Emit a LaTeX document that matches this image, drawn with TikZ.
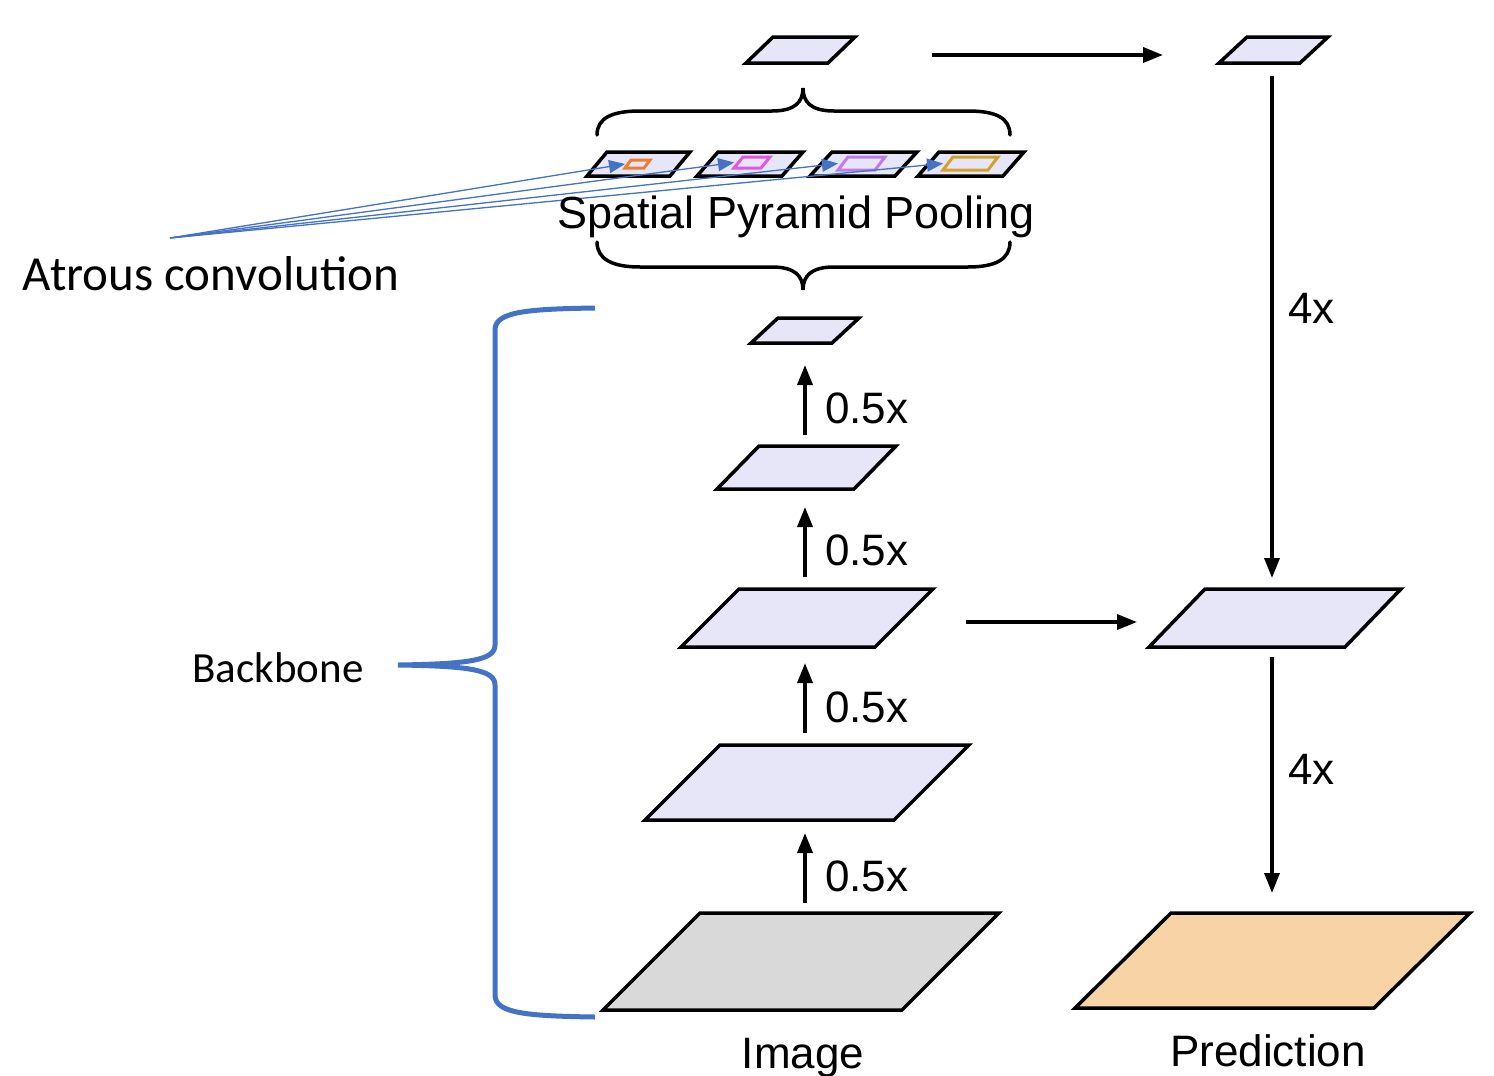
\documentclass[tikz,border=0pt]{standalone}
\usepackage{fontspec}
\setmainfont{Liberation Sans}
\newfontfamily\calibri{Carlito}
\usetikzlibrary{arrows.meta}

\definecolor{layerfill}{HTML}{E6E6F8}
\definecolor{imggray}{HTML}{D9D9D9}
\definecolor{predpeach}{HTML}{F8D3A6}
\definecolor{convblue}{HTML}{4472C4}
\definecolor{kone}{HTML}{ED7D31}
\definecolor{ktwo}{HTML}{E455E4}
\definecolor{kthree}{HTML}{C27BEA}
\definecolor{kfour}{HTML}{D4A22A}

\begin{document}
\begin{tikzpicture}[x=1pt,y=-1pt,
  slot/.style={inner sep=0pt, outer sep=0pt},
  layer/.style={draw=black, line width=3.5pt, line join=miter},
  flow/.style={-{Triangle[length=20pt,width=15pt]}, line width=3.5pt},
  atrous/.style={-{Triangle[length=16pt,width=13pt]}, draw=convblue, fill=convblue, line width=1.3pt},
  brace/.style={line width=3.5pt, line cap=round},
  lbl/.style={inner sep=0pt, font=\fontsize{44}{50}\selectfont},
  side/.style={inner sep=0pt, font=\calibri\fontsize{#1}{#1}\selectfont, anchor=base}]
\useasboundingbox (0,0) rectangle (1494,1076);

% feature maps: name/x/y/width/height/slant/fill
\foreach \n/\cx/\cy/\w/\h/\s/\c in {img/801/961.5/396/97/97/imggray,
    feat1/807/782.5/324/75/75/layerfill, feat2/807/618/252/58/58/layerfill,
    feat3/806.5/467.5/179/43/42/layerfill, feat4/805/330.5/108/25/27/layerfill,
    aspp/800.5/50/109/26/27/layerfill, asppup/1273.5/50/109/26/28/layerfill,
    dec/1275/618/252/58/56/layerfill, pred/1272.5/960.5/395/95/96/predpeach,
    br1/638.5/164/103/24/20/layerfill, br2/750/164/106/24/21/layerfill,
    br3/863.5/164/107/24/22/layerfill, br4/971/164/106/24/21/layerfill} {
  \node[slot, minimum width=\w pt, minimum height=\h pt] (\n) at (\cx,\cy) {};
  \draw[layer, fill=\c] (\n.south west) -- ([xshift=\s pt]\n.north west)
    -- (\n.north east) -- ([xshift=-\s pt]\n.south east) -- cycle;
}

% atrous kernels inside the branches
\foreach \n/\cx/\cy/\w/\h/\s/\c in {k1/637.5/164/25/8/6/kone, k2/752/162.5/36/11/9/ktwo,
    k3/861.5/163.5/47/13/10/kthree, k4/970.5/163.5/55/13/10/kfour} {
  \node[slot, minimum width=\w pt, minimum height=\h pt] (\n) at (\cx,\cy) {};
  \draw[draw=\c, line width=3pt, line join=miter] (\n.south west) -- ([xshift=\s pt]\n.north west)
    -- (\n.north east) -- ([xshift=-\s pt]\n.south east) -- cycle;
}

\coordinate (axis) at (805,0);
\coordinate (raxis) at (1272,0);
\coordinate (atr) at (170,238);

% backbone
\draw[flow, shorten <=10pt, shorten >=13pt] (img.north -| axis) -- (feat1.south -| axis);
\draw[flow, shorten <=12pt, shorten >=16pt] (feat1.north -| axis) -- (feat2.south -| axis);
\draw[flow, shorten <=12pt, shorten >=18pt] (feat2.north -| axis) -- (feat3.south -| axis);
\draw[flow, shorten <=11pt, shorten >=22pt] (feat3.north -| axis) -- (feat4.south -| axis);
\node[lbl, anchor=base west] (s1) at (825,891) {0.5x};
\node[lbl, anchor=base west] (s2) at (825,722) {0.5x};
\node[lbl, anchor=base west] (s3) at (825,565) {0.5x};
\node[lbl, anchor=base west] (s4) at (825,423) {0.5x};

% decoder
\draw[flow, shorten <=77pt, shorten >=56pt] ([yshift=-5pt]aspp.east) -- ([yshift=-5pt]asppup.west);
\draw[flow, shorten <=33pt, shorten >=12pt] ([yshift=-4pt]feat2.east) -- ([yshift=-4pt]dec.west);
\draw[flow, shorten <=13pt, shorten >=11pt] (asppup.south -| raxis) -- (dec.north -| raxis);
\draw[flow, shorten <=10pt, shorten >=20pt] (dec.south -| raxis) -- (pred.north -| raxis);
\node[lbl, anchor=base west] (u1) at (1288,323) {4x};
\node[lbl, anchor=base west] (u2) at (1288,784) {4x};

% atrous convolution pointers
\foreach \k in {k1,k2,k3,k4} {\draw[atrous] (atr) -- (\k.west);}

% braces round the pyramid pooling
\draw[brace] (597,135) .. controls (597,118) and (612,111) .. (640,111) -- (772,111)
  .. controls (795,111) and (803,102) .. (803,88)
  .. controls (803,102) and (811,111) .. (834,111) -- (968,111)
  .. controls (996,111) and (1010,118) .. (1010,135);
\draw[brace] (597,242) .. controls (597,259) and (612,267) .. (640,267) -- (772,267)
  .. controls (795,267) and (803,276) .. (803,290)
  .. controls (803,276) and (811,267) .. (834,267) -- (968,267)
  .. controls (996,267) and (1010,259) .. (1010,242);

% backbone brace
\draw[draw=convblue, line width=5pt] (595,308) .. controls (525,309) and (495,312) .. (495,330)
  -- (495,645) .. controls (495,660) and (470,664) .. (398,665)
  .. controls (470,666) and (495,670) .. (495,685) -- (495,995)
  .. controls (495,1013) and (525,1016) .. (595,1017);

\node[lbl, font=\fontsize{45}{50}\selectfont, anchor=base] (spp) at (796,228) {Spatial Pyramid Pooling};
\node[lbl, anchor=base] (imgl) at (803,1068) {Image};
\node[lbl, anchor=base] (predl) at (1268,1066) {Prediction};
\node[side=49] (atrl) at (211,290) {Atrous convolution};
\node[side=43] (bbl) at (278,682) {Backbone};
\end{tikzpicture}
\end{document}
